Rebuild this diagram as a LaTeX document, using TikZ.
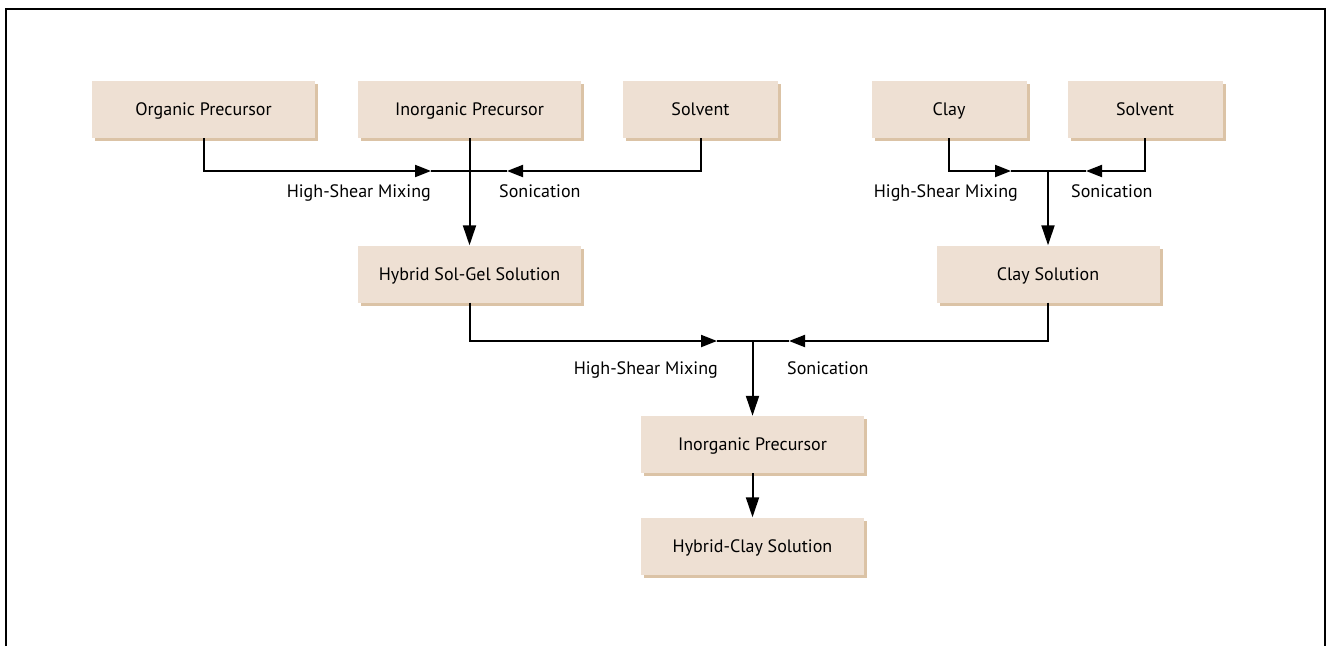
\documentclass[tikz,border=0pt]{standalone}
\usepackage{fontspec}
\setmainfont{PT Sans}
\usetikzlibrary{arrows.meta,shadows}
\definecolor{boxfill}{HTML}{EEE0D3}
\definecolor{boxshadow}{HTML}{DBC3A6}
\tikzset{
  box/.style={fill=boxfill, minimum height=57pt, inner sep=0pt, font=\fontsize{18}{21}\selectfont,
    text height=14.4pt, text depth=2pt,
    drop shadow={shadow xshift=3pt, shadow yshift=-3pt, fill=boxshadow, opacity=1}},
  wide/.style={box, minimum width=223pt},
  narrow/.style={box, minimum width=155pt},
  conn/.style={line width=2pt},
  arr/.style={conn, -{Triangle[length=16pt,width=12pt]}},
  varr/.style={conn, -{Triangle[length=20pt,width=13pt]}},
  lbl/.style={font=\fontsize{18}{21}\selectfont, inner sep=0pt}
}
\begin{document}
\begin{tikzpicture}[x=1pt,y=-1pt]
\useasboundingbox (0,0) rectangle (1329,646);
\draw[line width=1.5pt] (6,646) -- (6,9) -- (1325,9) -- (1325,646);
% top row
\node[wide] (org) at (203.5,109.5) {Organic Precursor};
\node[wide] (inorg) at (469.5,109.5) {Inorganic Precursor};
\node[narrow] (solv1) at (700.5,109.5) {Solvent};
\node[narrow] (clay) at (949,109.5) {Clay};
\node[narrow] (solv2) at (1145,109.5) {Solvent};
% middle row
\node[wide] (hyb) at (469.5,274) {Hybrid Sol-Gel Solution};
\node[wide] (claysol) at (1048,274) {Clay Solution};
% bottom
\node[wide] (inorg2) at (752.5,444.5) {Inorganic Precursor};
\node[wide] (hcs) at (752.5,546) {Hybrid-Clay Solution};
% left group
\coordinate (a1) at (431,171);
\coordinate (a2) at (507,171);
\draw[arr] (org.south) |- (a1);
\draw[arr] (solv1.south) |- (a2);
\draw[conn] (a1) -- (a2);
\draw[varr] (inorg.south) -- (hyb.north);
\node[lbl, anchor=base east] (l1) at (431,197) {High-Shear Mixing};
\node[lbl, anchor=base west] (l2) at (499,197) {Sonication};
% right group
\coordinate (b1) at (1011,171);
\coordinate (b2) at (1086,171);
\coordinate (bj) at (1048,171);
\draw[arr] (clay.south) |- (b1);
\draw[arr] (solv2.south) |- (b2);
\draw[conn] (b1) -- (b2);
\draw[varr] (bj) -- (claysol.north);
\node[lbl, anchor=base east] (l3) at (1018,197) {High-Shear Mixing};
\node[lbl, anchor=base west] (l4) at (1071,197) {Sonication};
% bottom group
\coordinate (c1) at (717,341);
\coordinate (c2) at (789,341);
\coordinate (cj) at (752.5,341);
\draw[arr] (hyb.south) |- (c1);
\draw[arr] (claysol.south) |- (c2);
\draw[conn] (c1) -- (c2);
\draw[varr] (cj) -- (inorg2.north);
\node[lbl, anchor=base east] (l5) at (718,374) {High-Shear Mixing};
\node[lbl, anchor=base west] (l6) at (787,374) {Sonication};
\draw[varr] (inorg2.south) -- (hcs.north);
\end{tikzpicture}
\end{document}
